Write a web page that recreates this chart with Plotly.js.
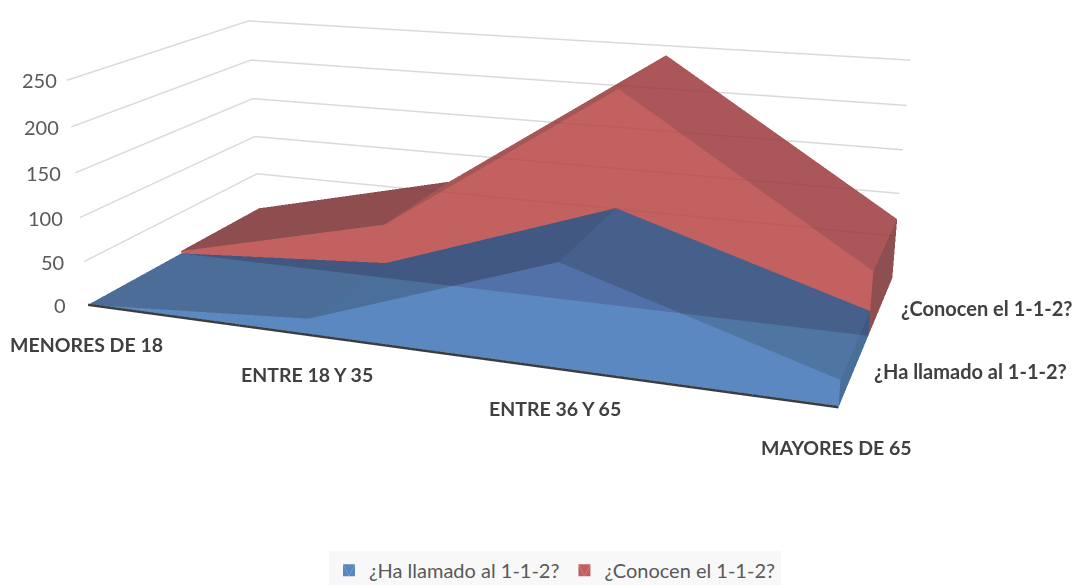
<!DOCTYPE html>
<html><head><meta charset="utf-8"><script src="https://cdn.plot.ly/plotly-3.0.1.min.js"></script>
<style>html,body{margin:0;overflow:hidden;background:#fff}</style></head>
<body><div id="c" style="position:absolute"></div>
<script>
const categories=['MENORES DE 18','ENTRE 18 Y 35','ENTRE 36 Y 65','MAYORES DE 65'];
const seriesNames=['¿Ha llamado al 1-1-2?','¿Conocen el 1-1-2?'];
const llamado=[0,18,110,27];
const conocen=[3,64,239,70];
const valueTicks=[0,50,100,150,200,250];

const cam={eye:[.7097,-1.8956,.5576],center:[.0157,-.1433,-.0904],up:[-.1534,.4178,1],aspectY:.4777,aspectZ:.307,focal:1561.7064,cx:469.0139,cy:280.7172};
const Hs=cam.focal/1.2071, Ws=2*Math.max(cam.cx,1079-cam.cx)+2;
const sl=cam.cx-Ws/2, st=cam.cy-Hs/2;
const L=Math.min(0,sl),T=Math.min(0,st);
const Wl=Math.max(1079-L,sl+Ws-L),Hl=Math.max(585-T,st+Hs-T);
const box=document.getElementById('c');box.style.left=L+'px';box.style.top=T+'px';

const topColors=[['#4b6e97','#4a6f9a','#4f76a3'],['#8e4e50','#a75655','#ab5759']];
const frontColors=['#5b88c0','#c2615f'];
const sideColors=['#476f9b','#8f4f50'];
const op=.85;
function comp(h){const v=[1,3,5].map(i=>parseInt(h.substr(i,2),16));return 'rgb('+v.map(c=>Math.max(0,Math.round((c-255*(1-op))/op))).join(',')+')';}
function face(xs,ys,zs,tris,cols,name,leg,rank,group){
  const t={type:'mesh3d',x:xs,y:ys,z:zs,i:tris.map(a=>a[0]),j:tris.map(a=>a[1]),k:tris.map(a=>a[2]),opacity:op,hoverinfo:'skip',flatshading:true,lighting:{ambient:1,diffuse:0,specular:0,fresnel:0,roughness:1},showlegend:leg,name:name,legendgroup:group,legendrank:rank};
  if(Array.isArray(cols))t.facecolor=cols.map(comp);else t.color=comp(cols);
  return t;
}
function band(vals,y0,y1,s){
  const n=vals.length,idx=vals.map((_,i)=>i),nm=seriesNames[s],g='s'+s,out=[];
  const strip=(za,zb,ya,yb)=>{const x=[],y=[],z=[],t=[];idx.forEach(i=>{x.push(i,i);y.push(ya,yb);z.push(za[i],zb[i]);});for(let c=0;c<n-1;c++){const a=c*2;t.push([a,a+2,a+3],[a,a+3,a+1]);}return [x,y,z,t];};
  const zero=vals.map(()=>0);
  let b=strip(vals,vals,y0,y1);const tc=[];topColors[s].forEach(c=>tc.push(c,c));out.push(face(b[0],b[1],b[2],b[3],tc,nm,false,2,g));
  const e=n-1;out.push(face([e,e,e,e],[y0,y1,y1,y0],[0,0,vals[e],vals[e]],[[0,1,2],[0,2,3]],sideColors[s],nm,false,2,g));
  b=strip(zero,vals,y0,y0);out.push(face(b[0],b[1],b[2],b[3],frontColors[s],nm,true,s+1,g));
  return out;
}
const traces=band(conocen,.5,1,1).concat(band(llamado,0,.5,0));
traces.push({type:'scatter3d',mode:'lines',x:[0,categories.length-1],y:[0,0],z:[0,0],line:{color:'#3c3c3c',width:5},showlegend:false,hoverinfo:'skip'});
const ann=[];
categories.forEach((c,i)=>ann.push({x:i,y:0,z:0,text:c,showarrow:false,xanchor:'center',yanchor:'middle',xshift:-2,yshift:-40,font:{family:'Lato',size:19.5,color:'#404040',weight:700}}));
valueTicks.forEach(v=>ann.push({x:0,y:0,z:v,text:String(v),showarrow:false,xanchor:'right',yanchor:'middle',xshift:-20+12*v/250,font:{family:'Lato',size:20,color:'#595959'}}));
seriesNames.forEach((s,i)=>ann.push({x:categories.length-1,y:.25+.5*i,z:0,text:s,showarrow:false,xanchor:'left',yanchor:'middle',xshift:18,yshift:-2,font:{family:'Lato',size:20,color:'#404040',weight:700}}));
const ax={showgrid:false,zeroline:false,showline:false,showticklabels:false,ticks:'',showbackground:false,showspikes:false,title:{text:''}};
Plotly.newPlot('c',traces,{width:Wl,height:Hl,margin:{l:0,r:0,t:0,b:0,pad:0},showlegend:true,paper_bgcolor:'#fff',
 legend:{orientation:'h',xanchor:'center',yanchor:'middle',x:(555-L)/Wl,y:1-(570-T)/Hl,font:{family:'Lato',size:20,color:'#595959'},bgcolor:'#f8f8f8'},
 scene:{domain:{x:[(sl-L)/Wl,(sl+Ws-L)/Wl],y:[1-(st+Hs-T)/Hl,1-(st-T)/Hl]},
  camera:{eye:{x:cam.eye[0],y:cam.eye[1],z:cam.eye[2]},center:{x:cam.center[0],y:cam.center[1],z:cam.center[2]},up:{x:cam.up[0],y:cam.up[1],z:cam.up[2]},projection:{type:'perspective'}},
  aspectmode:'manual',aspectratio:{x:1,y:cam.aspectY,z:cam.aspectZ},
  xaxis:Object.assign({},ax,{range:[0,3]}),yaxis:Object.assign({},ax,{range:[0,1]}),
  zaxis:Object.assign({},ax,{range:[0,250],showgrid:true,gridcolor:'#d9d9d9',gridwidth:3,tickvals:valueTicks.slice(1)}),annotations:ann}},{displayModeBar:false});
</script></body></html>
